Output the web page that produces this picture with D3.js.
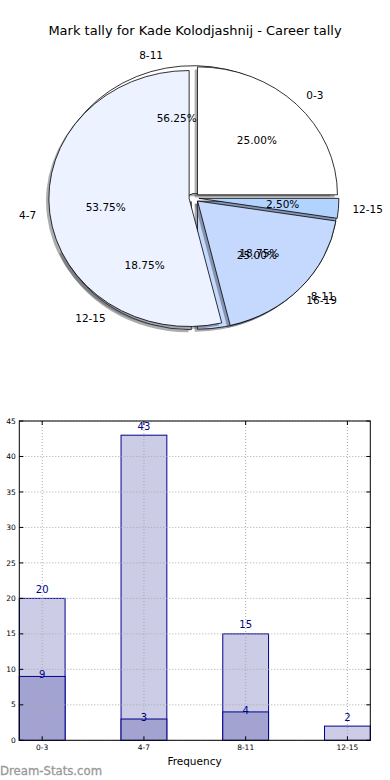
<!DOCTYPE html>
<html><head><meta charset="utf-8">
<script src="https://cdn.jsdelivr.net/npm/d3@7"></script>
<style>body{margin:0;background:#fff} svg{display:block;font-family:"DejaVu Sans",sans-serif}</style>
</head><body>
<script>
const title = "Mark tally for Kade Kolodjashnij - Career tally";
const pieALabels = ["0-3","4-7","8-11","12-15"];
const pieAValues = [20,43,15,2];
const pieBLabels = ["8-11","12-15","16-19"];
const pieBValues = [9,3,4];
const pieColors = ["#ffffff","#ecf2ff","#c5d9ff","#b3d3ff"];

const categories = ["0-3","4-7","8-11","12-15"];
const totalValues = [20,43,15,2];
const subValues = [9,3,4,0];
const yTicks = [0,5,10,15,20,25,30,35,40,45];
const xLabel = "Frequency";
const watermark = "Dream-Stats.com";

const W = 390, H = 780;
const svg = d3.select("body").append("svg").attr("width",W).attr("height",H);
svg.append("rect").attr("width",W).attr("height",H).attr("fill","#fff");
svg.append("text").attr("x",195).attr("y",35).attr("text-anchor","middle")
  .attr("font-size",13).attr("fill","#000").text(title);

// ---- Pies ----
const cx = 194, cy = 198, rx = 140, ry = 128, explode = 0.035;
const arc = d3.arc().innerRadius(0).outerRadius(1);
const pieGen = d3.pie().sort(null).value(d=>d).startAngle(Math.PI/2).endAngle(Math.PI/2 - 2*Math.PI);

const gB_sh = svg.append("g"), gB = svg.append("g"), gA_sh = svg.append("g"), gA = svg.append("g"), gT = svg.append("g");

function drawPie(values, labels, gSh, gW) {
  const total = d3.sum(values);
  pieGen(values).forEach((a,i)=>{
    const mid = (a.startAngle + a.endAngle)/2;
    const ux = Math.sin(mid), uy = -Math.cos(mid);
    const ox = explode*rx*ux, oy = explode*ry*uy;
    const col = d3.rgb(pieColors[i % pieColors.length]);
    const sc = `rgba(${Math.round(col.r*0.3)},${Math.round(col.g*0.3)},${Math.round(col.b*0.3)},0.45)`;
    gSh.append("path")
      .attr("transform",`translate(${cx+ox-0.02*rx},${cy+oy+0.02*ry}) scale(${rx},${ry})`)
      .attr("d", arc({startAngle:a.startAngle,endAngle:a.endAngle}))
      .attr("fill", sc).attr("stroke", "none")
      .attr("vector-effect","non-scaling-stroke");
    gW.append("path")
      .attr("transform",`translate(${cx+ox},${cy+oy}) scale(${rx},${ry})`)
      .attr("d", arc({startAngle:a.startAngle,endAngle:a.endAngle}))
      .attr("fill", pieColors[i % pieColors.length]).attr("stroke","#000").attr("stroke-width",0.8)
      .attr("vector-effect","non-scaling-stroke");
    const lx = cx+ox+1.1*rx*ux, ly = cy+oy+1.1*ry*uy;
    gT.append("text").attr("x",lx).attr("y",ly).attr("dy","0.35em")
      .attr("text-anchor", ux>0 ? "start":"end").attr("font-size",10.5).attr("fill","#000")
      .text(labels[i]);
    const px = cx+ox+0.6*rx*ux, py = cy+oy+0.6*ry*uy;
    gT.append("text").attr("x",px).attr("y",py).attr("dy","0.35em")
      .attr("text-anchor","middle").attr("font-size",10.5).attr("fill","#000")
      .text((a.value/total*100).toFixed(2)+"%");
  });
}
drawPie(pieBValues, pieBLabels, gB_sh, gB);
drawPie(pieAValues, pieALabels, gA_sh, gA);

// ---- Bars ----
const L = 19.3, R = 370.3, T = 421, B = 740.3;
const x = d3.scaleLinear().domain([-0.225, 3.225]).range([L, R]);
const y = d3.scaleLinear().domain([0,45]).range([B, T]);
const bw = 0.45;
const bars = svg.append("g");
const lightFill = "#ccccE6", darkFill = "#a3a3d1", edge = "#000090", txtCol = "#00008b";
categories.forEach((c,i)=>{
  bars.append("rect").attr("x",x(i-bw/2)).attr("width",x(bw)-x(0))
    .attr("y",y(totalValues[i])).attr("height",B-y(totalValues[i]))
    .attr("fill",lightFill).attr("stroke",edge).attr("stroke-width",1);
  if (subValues[i] > 0) {
    bars.append("rect").attr("x",x(i-bw/2)).attr("width",x(bw)-x(0))
      .attr("y",y(subValues[i])).attr("height",B-y(subValues[i]))
      .attr("fill",darkFill).attr("stroke",edge).attr("stroke-width",1);
  }
});
// grid
const grid = svg.append("g").attr("stroke","#a8a8a8").attr("stroke-width",1).attr("stroke-dasharray","1,2");
yTicks.forEach(t=>{ grid.append("line").attr("x1",L).attr("x2",R).attr("y1",y(t)).attr("y2",y(t)); });
categories.forEach((c,i)=>{ grid.append("line").attr("x1",x(i)).attr("x2",x(i)).attr("y1",T).attr("y2",B); });
// value labels
categories.forEach((c,i)=>{
  svg.append("text").attr("x",x(i)).attr("y",y(totalValues[i])-9).attr("dy","0.35em")
    .attr("text-anchor","middle").attr("font-size",10).attr("fill",txtCol).text(totalValues[i]);
  if (subValues[i] > 0) {
    svg.append("text").attr("x",x(i)).attr("y",y(subValues[i])-1.5).attr("dy","0.35em")
      .attr("text-anchor","middle").attr("font-size",10).attr("fill",txtCol).text(subValues[i]);
  }
});
// frame and ticks
const ax = svg.append("g");
ax.append("rect").attr("x",L).attr("y",T).attr("width",R-L).attr("height",B-T)
  .attr("fill","none").attr("stroke","#000").attr("stroke-width",1);
yTicks.forEach(t=>{
  ax.append("line").attr("x1",L).attr("x2",L+4).attr("y1",y(t)).attr("y2",y(t)).attr("stroke","#000");
  ax.append("line").attr("x1",R-4).attr("x2",R).attr("y1",y(t)).attr("y2",y(t)).attr("stroke","#000");
  ax.append("text").attr("x",L-3.5).attr("y",y(t)).attr("dy","0.35em").attr("text-anchor","end")
    .attr("font-size",7.5).attr("fill","#000").text(t);
});
categories.forEach((c,i)=>{
  ax.append("line").attr("x1",x(i)).attr("x2",x(i)).attr("y1",B).attr("y2",B-4).attr("stroke","#000");
  ax.append("line").attr("x1",x(i)).attr("x2",x(i)).attr("y1",T).attr("y2",T+4).attr("stroke","#000");
  ax.append("text").attr("x",x(i)).attr("y",747.5).attr("dy","0.35em").attr("text-anchor","middle")
    .attr("font-size",7.5).attr("fill","#000").text(c);
});
svg.append("text").attr("x",194.5).attr("y",761).attr("dy","0.35em").attr("text-anchor","middle")
  .attr("font-size",10.5).attr("fill","#000").text(xLabel);
svg.append("text").attr("x",0).attr("y",771).attr("dy","0.35em").attr("text-anchor","start")
  .attr("font-size",11.7).attr("fill","#999").attr("stroke","#999").attr("stroke-width",0.3)
  .text(watermark);
</script>
</body></html>
